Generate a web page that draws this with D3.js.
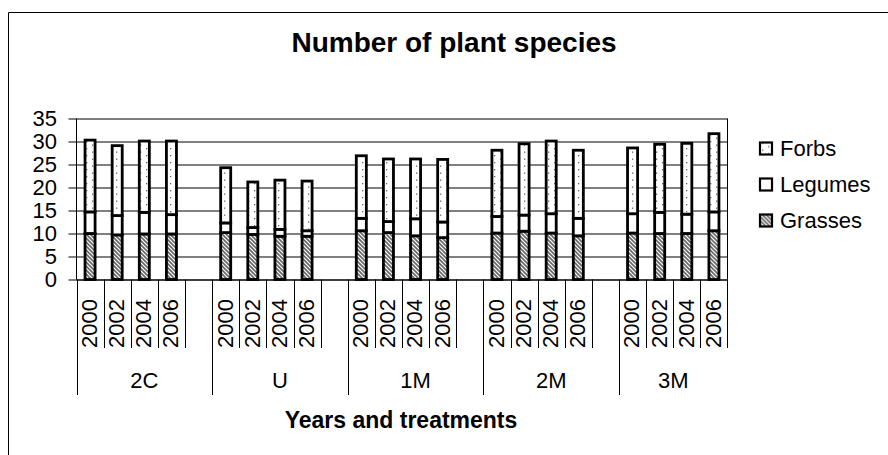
<!DOCTYPE html>
<html>
<head>
<meta charset="utf-8">
<script src="https://cdn.jsdelivr.net/npm/d3@7"></script>
<style>
  body { margin: 0; background: #fff; }
  svg { display: block; font-family: "Liberation Sans", Arial, sans-serif; }
</style>
</head>
<body>
<div id="chart"></div>
<script>
const GROUPS = ["2C", "U", "1M", "2M", "3M"]
const YEARS = ["2000", "2002", "2004", "2006"]
const SERIES = ["Grasses", "Legumes", "Forbs"]
const GRASSES = [10.0, 9.7, 9.9, 9.9, 10.2, 9.8, 9.4, 9.4, 10.6, 10.2, 9.5, 9.1, 10.1, 10.5, 10.1, 9.5, 10.1, 10.0, 10.0, 10.6]
const LEGUMES = [4.7, 4.2, 4.7, 4.2, 2.1, 1.5, 1.5, 1.2, 2.7, 2.4, 3.7, 3.4, 3.6, 3.5, 4.2, 3.8, 4.2, 4.6, 4.2, 4.1]
const FORBS = [15.6, 15.2, 15.5, 16.0, 12.0, 9.9, 10.7, 10.8, 13.6, 13.6, 13.0, 13.6, 14.4, 15.5, 15.8, 14.8, 14.3, 14.8, 15.4, 17.0]
const Y_TICKS = [0, 5, 10, 15, 20, 25, 30, 35]

const width = 888, height = 455
const plot = {left: 76.5, right: 727.5, top: 118.5, bottom: 279.5}

const svg = d3.select("#chart").append("svg")
  .attr("width", width)
  .attr("height", height)

// patterns
const defs = svg.append("defs")
const dots = defs.append("pattern")
  .attr("id", "dots").attr("patternUnits", "userSpaceOnUse")
  .attr("width", 12).attr("height", 7)
dots.append("rect").attr("width", 12).attr("height", 7).attr("fill", "#fff")
dots.append("rect").attr("x", 2).attr("y", 1).attr("width", 1.3).attr("height", 1.3).attr("fill", "#666")
dots.append("rect").attr("x", 8).attr("y", 4.5).attr("width", 1.3).attr("height", 1.3).attr("fill", "#666")

const hatch = defs.append("pattern")
  .attr("id", "hatch").attr("patternUnits", "userSpaceOnUse")
  .attr("width", 4).attr("height", 4)
hatch.append("rect").attr("width", 4).attr("height", 4).attr("fill", "#fff")
hatch.append("path").attr("d", "M-1,-1 L5,5 M-1,3 L1,5 M3,-1 L5,1")
  .attr("stroke", "#666").attr("stroke-width", 1.6)

const FILLS = {Grasses: "url(#hatch)", Legumes: "#fff", Forbs: "url(#dots)"}

// outer chart border
svg.append("path")
  .attr("d", "M8.5," + (height + 5) + " V12.5 H" + (width + 5))
  .attr("fill", "none").attr("stroke", "#000")

// build rows: 4 years per group, a blank slot between groups
let slots = []
let rows = []
GROUPS.forEach(function(g, gi) {
  YEARS.forEach(function(yr, yi) {
    let i = gi * YEARS.length + yi
    slots.push(g + "|" + yr)
    rows.push({slot: g + "|" + yr, Grasses: GRASSES[i], Legumes: LEGUMES[i], Forbs: FORBS[i]})
  })
  if (gi < GROUPS.length - 1) slots.push(g + "|")
})

const x = d3.scaleBand().domain(slots).range([plot.left, plot.right])
const y = d3.scaleLinear().domain([0, 35]).range([plot.bottom, plot.top])

// gridlines + y axis
const yAxis = svg.append("g")
  .attr("transform", "translate(" + plot.left + ",0)")
  .call(d3.axisLeft(y).tickValues(Y_TICKS).tickSize(8).tickFormat(d3.format("d")))
yAxis.select(".domain").remove()
yAxis.selectAll(".tick line").attr("x2", plot.right - plot.left).attr("x1", -8).attr("stroke", "#000")
yAxis.selectAll(".tick text")
  .attr("x", -19.5)
  .style("font-size", "22px")
  .style("font-family", "'Liberation Sans', Arial, sans-serif")
  .attr("fill", "#000")

svg.append("line")
  .attr("x1", plot.left).attr("x2", plot.left)
  .attr("y1", plot.top).attr("y2", plot.bottom)
  .attr("stroke", "#000")
svg.append("line")
  .attr("x1", plot.right).attr("x2", plot.right)
  .attr("y1", plot.top).attr("y2", plot.bottom)
  .attr("stroke", "#000")

// stacked bars
const stacked = d3.stack().keys(SERIES)(rows)
const barW = x.bandwidth() * 0.37

svg.append("g").selectAll("g")
  .data(stacked)
  .enter().append("g")
    .attr("fill", function(d) { return FILLS[d.key] })
  .selectAll("rect")
  .data(function(d) { return d })
  .enter().append("rect")
    .attr("x", function(d) { return x(d.data.slot) + (x.bandwidth() - barW) / 2 })
    .attr("y", function(d) { return y(d[1]) })
    .attr("width", barW)
    .attr("height", function(d) { return y(d[0]) - y(d[1]) })
    .attr("stroke", "#000")
    .attr("stroke-width", 2.8)

// category axis
svg.append("line")
  .attr("x1", plot.left).attr("x2", plot.right)
  .attr("y1", plot.bottom + 0.5).attr("y2", plot.bottom + 0.5)
  .attr("stroke", "#000")

const sep = svg.append("g").attr("stroke", "#000")
slots.forEach(function(s, i) {
  let xx = Math.round(x(s)) + 0.5
  let first = s.split("|")[1] == YEARS[0]
  sep.append("line")
    .attr("x1", xx).attr("x2", xx)
    .attr("y1", plot.bottom).attr("y2", first ? 395 : 348)
})
sep.append("line")
  .attr("x1", plot.right).attr("x2", plot.right)
  .attr("y1", plot.bottom).attr("y2", 348)

// year labels
svg.append("g").selectAll("text")
  .data(slots.filter(function(s) { return s.split("|")[1] != "" }))
  .enter().append("text")
    .attr("transform", function(s) {
      return "translate(" + (x(s) + x.bandwidth() / 2 - 1) + ",348) rotate(-90)"
    })
    .attr("dy", "0.36em")
    .style("font-size", "22px")
    .text(function(s) { return s.split("|")[1] })

// group labels
svg.append("g").selectAll("text")
  .data(GROUPS)
  .enter().append("text")
    .attr("x", function(g, gi) {
      let a = x(g + "|" + YEARS[0])
      let b = gi < GROUPS.length - 1 ? x(g + "|") + x.bandwidth() : plot.right
      return (a + b) / 2
    })
    .attr("y", 388)
    .attr("text-anchor", "middle")
    .style("font-size", "22px")
    .text(function(g) { return g })

// titles
svg.append("text")
  .attr("x", 454).attr("y", 52)
  .attr("text-anchor", "middle")
  .style("font-size", "28px").style("font-weight", "bold")
  .text("Number of plant species")

svg.append("text")
  .attr("x", 401).attr("y", 428)
  .attr("text-anchor", "middle")
  .style("font-size", "23px").style("font-weight", "bold")
  .text("Years and treatments")

// legend
const legend = svg.append("g")
  .selectAll("g")
  .data(SERIES.slice().reverse())
  .enter().append("g")
    .attr("transform", function(d, i) { return "translate(760," + (148.5 + i * 36) + ")" })
legend.append("rect")
  .attr("x", 0).attr("y", -6).attr("width", 12).attr("height", 12)
  .attr("fill", function(d) { return FILLS[d] })
  .attr("stroke", "#000").attr("stroke-width", 2.2)
legend.append("text")
  .attr("x", 20).attr("dy", "0.36em")
  .style("font-size", "22px")
  .text(function(d) { return d })
</script>
</body>
</html>
